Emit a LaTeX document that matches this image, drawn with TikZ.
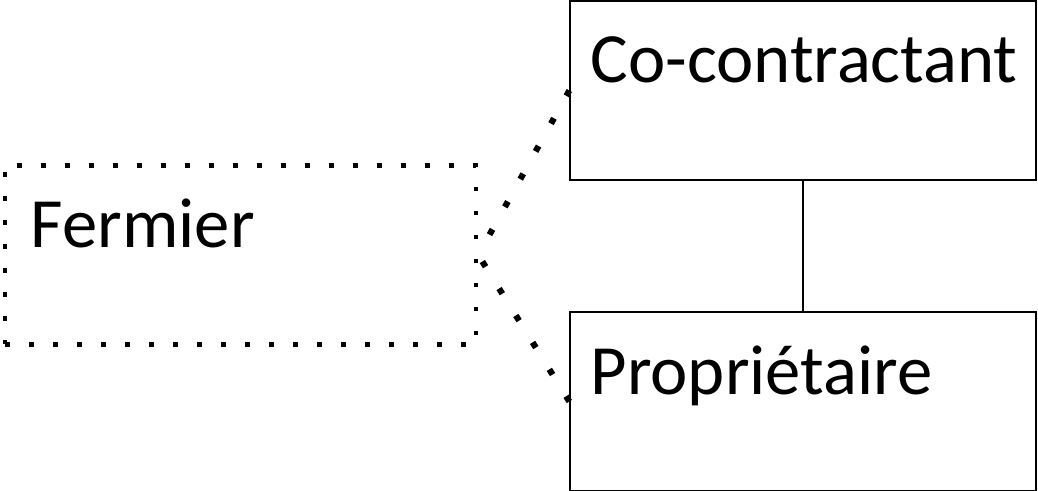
\documentclass[tikz,border=0pt]{standalone}
\usepackage{fontspec}
\setmainfont{Carlito}
\usetikzlibrary{positioning}

\begin{document}
\begin{tikzpicture}[
  box/.style={draw, line width=1pt, inner sep=0pt, text width=349.5pt, align=left,
    text height=61.5pt, text depth=72.75pt, font=\fontsize{53}{63}\selectfont,
    execute at begin node={\hspace*{#1}}},
  box/.default=15.5pt,
  dotbox/.style={box=19.5pt, line width=3.4pt, dash pattern=on 3.4pt off 14.6pt, text width=353.25pt},
  link/.style={line width=4.6pt, dash pattern=on 4.6pt off 19.2pt}]
\useasboundingbox (0,0) rectangle (778.5pt,-368.25pt);
\node[box] (CC) at (602.25pt,-67.875pt) {Co-contractant};
\node[box, below=98pt of CC] (PR) {Propriétaire};
\node[dotbox] (FE) at (180.375pt,-191.25pt) {Fermier};
\draw[line width=1pt] (CC) -- (PR);
\draw[link] (CC.west) -- (FE.east);
\draw[link] (PR.west) -- (FE.east);
\end{tikzpicture}
\end{document}
